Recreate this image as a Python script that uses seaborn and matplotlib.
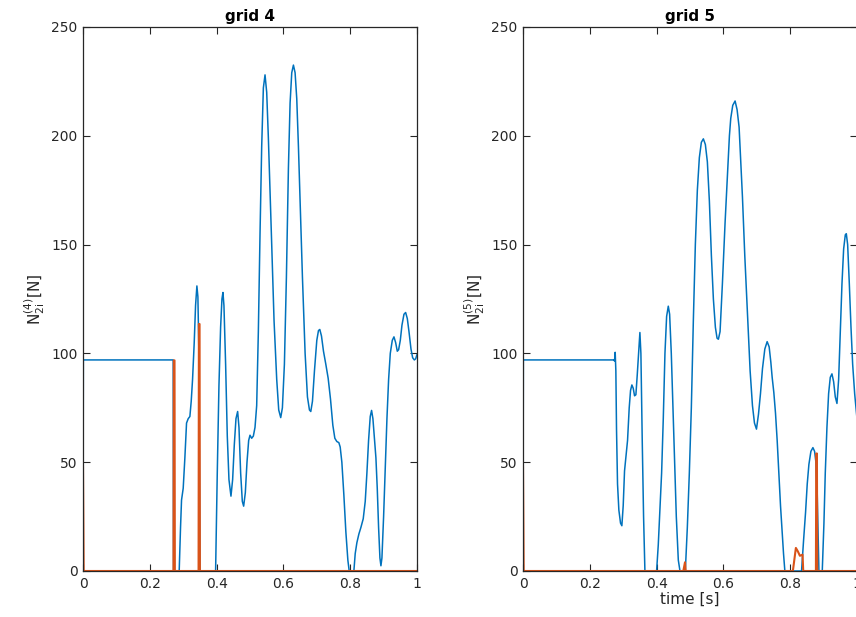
import numpy as np
import pandas as pd
import matplotlib
matplotlib.use("Agg")
import matplotlib.pyplot as plt
import seaborn as sns

# ---- data ----
t4_blue = [0, 0.001, 0.270, 0.271, 0.288, 0.292, 0.295, 0.300, 0.305, 0.310, 0.315, 0.320, 0.324, 0.328,
           0.333, 0.337, 0.341, 0.344, 0.347, 0.350, 0.397, 0.402, 0.407, 0.412, 0.416, 0.419, 0.422, 0.427,
           0.432, 0.437, 0.443, 0.448, 0.453, 0.458, 0.463, 0.467, 0.472, 0.477, 0.481, 0.486, 0.491, 0.496,
           0.500, 0.505, 0.510, 0.515, 0.520, 0.525, 0.530, 0.535, 0.540, 0.545, 0.550, 0.555, 0.560, 0.565,
           0.572, 0.580, 0.586, 0.592, 0.597, 0.603, 0.609, 0.615, 0.620, 0.625, 0.630, 0.635, 0.640, 0.645,
           0.650, 0.657, 0.665, 0.672, 0.678, 0.682, 0.687, 0.693, 0.700, 0.705, 0.709, 0.714, 0.720, 0.727,
           0.734, 0.741, 0.748, 0.754, 0.760, 0.766, 0.770, 0.775, 0.781, 0.787, 0.793, 0.797, 0.811, 0.815,
           0.820, 0.826, 0.832, 0.839, 0.845, 0.850, 0.855, 0.860, 0.864, 0.868, 0.873, 0.877, 0.881, 0.885,
           0.889, 0.892, 0.895, 0.900, 0.905, 0.910, 0.915, 0.920, 0.926, 0.931, 0.936, 0.941, 0.945, 0.950,
           0.955, 0.961, 0.966, 0.971, 0.976, 0.982, 0.987, 0.992, 0.996, 1.0]
n4_blue = [0, 97, 97, 0, 0, 20, 32.6, 38, 52, 68, 70, 71, 78, 88,
           105, 122, 131, 126, 100, 0, 0, 45, 85, 112, 125, 128, 122, 95,
           62, 42, 34.4, 42, 58, 70, 73.3, 66, 45, 32, 29.8, 36, 50, 60,
           62.4, 61, 62, 66, 76, 110, 155, 195, 222, 228, 220, 199, 175, 150,
           115, 88, 74, 70.5, 75, 95, 135, 185, 215, 229, 232.5, 229, 217, 195,
           170, 135, 100, 80, 74, 73.3, 78, 92, 106, 110.5, 111, 108, 101, 95,
           88.6, 79, 67, 61, 59.5, 59, 57, 50, 35, 18, 5, 0, 0, 8,
           13, 17, 20, 24, 32, 45, 60, 71, 73.8, 70, 60, 52, 38, 20,
           6, 2.4, 6, 25, 48, 70, 88, 100, 106, 107.6, 105, 101, 101.7, 106,
           113, 118, 118.8, 116, 110, 102, 98, 97, 97.5, 99.5]

t4_orange = [0, 0.002, 0.271, 0.272, 0.274, 0.275, 0.346, 0.347, 0.349, 0.350, 1.0]
n4_orange = [48, 0, 0, 96.8, 96.8, 0, 0, 113.5, 113.5, 0, 0]

t5_blue = [0, 0.001, 0.272, 0.274, 0.276, 0.278, 0.280, 0.283, 0.287, 0.292, 0.296, 0.300, 0.304, 0.309,
           0.313, 0.318, 0.322, 0.326, 0.330, 0.334, 0.338, 0.342, 0.346, 0.350, 0.353, 0.357, 0.361, 0.365,
           0.400, 0.405, 0.410, 0.415, 0.420, 0.425, 0.430, 0.435, 0.439, 0.444, 0.449, 0.454, 0.459, 0.465,
           0.470, 0.486, 0.492, 0.498, 0.504, 0.510, 0.516, 0.522, 0.528, 0.534, 0.540, 0.546, 0.552, 0.558,
           0.564, 0.570, 0.576, 0.581, 0.585, 0.590, 0.597, 0.605, 0.612, 0.618, 0.622, 0.628, 0.635, 0.641,
           0.647, 0.652, 0.657, 0.664, 0.672, 0.680, 0.687, 0.693, 0.699, 0.705, 0.711, 0.717, 0.724, 0.731,
           0.737, 0.742, 0.746, 0.751, 0.756, 0.761, 0.766, 0.771, 0.776, 0.780, 0.784, 0.834, 0.840, 0.846,
           0.851, 0.856, 0.862, 0.868, 0.873, 0.877, 0.881, 0.886, 0.896, 0.901, 0.905, 0.910, 0.915, 0.920,
           0.925, 0.930, 0.935, 0.940, 0.945, 0.950, 0.955, 0.960, 0.965, 0.968, 0.972, 0.977, 0.982, 0.987,
           0.993, 1.0]
n5_blue = [0, 97, 97, 96.5, 100.5, 92, 65, 40, 28, 22, 20.8, 30, 46, 54,
           60, 75, 83, 85.5, 84, 80.5, 81, 90, 100, 109.6, 100, 60, 25, 0,
           0, 12, 28, 45, 70, 100, 117, 121.7, 118, 100, 75, 50, 25, 5,
           0, 0, 20, 45, 75, 115, 150, 175, 190, 197, 198.6, 196, 188, 170,
           145, 125, 112, 107, 106.5, 110, 132, 160, 182, 200, 208, 214, 216, 212,
           204, 188, 172, 145, 118, 92, 76, 68, 65.2, 72, 81.5, 93, 102, 105.4,
           103, 96, 89, 82, 72.5, 60, 45, 30, 18, 8, 0, 0, 14, 27,
           40, 49, 55, 56.7, 55, 50, 35, 0, 0, 22, 45, 66, 81.5, 89,
           90.6, 87, 80, 77, 88, 110, 132, 148, 154.5, 155, 150, 132, 112, 95,
           81.5, 70]

t5_orange = [0, 0.002, 0.480, 0.485, 0.487, 0.808, 0.817, 0.823, 0.829, 0.837, 0.839, 0.877, 0.878, 0.880, 0.881, 1.0]
n5_orange = [48, 0, 0, 4, 0, 0, 10.6, 9, 7, 7.5, 0, 0, 54, 54, 0, 0]

titles = ["grid 4", "grid 5"]
ylabels = [r"N$\mathregular{^{(4)}_{2i}}$[N]", r"N$\mathregular{^{(5)}_{2i}}$[N]"]
xticks = [0, 0.2, 0.4, 0.6, 0.8, 1]
xticklabels = ["0", "0.2", "0.4", "0.6", "0.8", "1"]
yticks = [0, 50, 100, 150, 200, 250]

BLUE = "#0072BD"
ORANGE = "#D95319"
AX = "#262626"

sns.set_theme(style="white")
plt.rcParams["font.family"] = ["DejaVu Sans"]
plt.rcParams["mathtext.fontset"] = "dejavusans"

fig = plt.figure(figsize=(8.56, 6.17), dpi=100)
ax1 = fig.add_axes([83/856, 1-571/617, 334/856, 544/617])
ax2 = fig.add_axes([523/856, 1-571/617, 334/856, 544/617])

series = [
    (ax1, t4_blue, n4_blue, t4_orange, n4_orange),
    (ax2, t5_blue, n5_blue, t5_orange, n5_orange),
]
for i, (ax, tb, nb, to, no) in enumerate(series):
    db = pd.DataFrame({"t": tb, "n": nb})
    do = pd.DataFrame({"t": to, "n": no})
    sns.lineplot(data=db, x="t", y="n", ax=ax, color=BLUE, lw=1.1, sort=False, estimator=None)
    sns.lineplot(data=do, x="t", y="n", ax=ax, color=ORANGE, lw=1.5, sort=False, estimator=None)
    ax.set_xlim(0, 1)
    ax.set_ylim(0, 250)
    ax.set_xticks(xticks)
    ax.set_xticklabels(xticklabels)
    ax.set_yticks(yticks)
    ax.tick_params(direction="in", length=5, width=0.8, colors=AX, labelsize=10,
                   top=True, right=True, bottom=True, left=True, pad=4)
    for s in ax.spines.values():
        s.set_color(AX)
        s.set_linewidth(0.9)
    ax.set_title(titles[i], fontsize=11, fontweight="bold", color="black", pad=4)
    ax.set_ylabel(ylabels[i], fontsize=11, color=AX, labelpad=3)
    ax.set_xlabel("")
ax2.set_xlabel("time [s]", fontsize=11, color=AX, labelpad=1)

fig.savefig("out.png", dpi=100)
